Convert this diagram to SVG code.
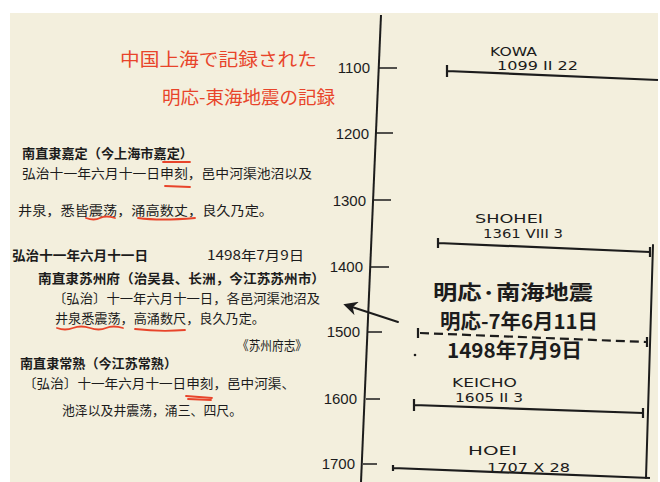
<svg xmlns="http://www.w3.org/2000/svg" width="660" height="482" viewBox="0 0 660 482">
<defs>
<style>
.ink{stroke:#1c1c1c;fill:none;stroke-linecap:round}
.ax{stroke:#1c1c1c;stroke-width:2;fill:none}
.tk{stroke:#1c1c1c;stroke-width:1.6}
.bar{stroke:#1c1c1c;stroke-width:2.2;fill:none}
.red{stroke:#e8442a;stroke-width:1.8;fill:none;stroke-linecap:round}
.num{font-family:"Liberation Sans",Arial,sans-serif;font-size:15px;fill:#1c1c1c;text-anchor:end}
.era{font-family:"DejaVu Sans","Liberation Sans",sans-serif;font-size:12px;fill:#1c1c1c}
.cn{font-family:"Noto Sans CJK SC","Noto Sans CJK JP",sans-serif;font-size:13px;fill:#1c1c1c}
.cnb{font-family:"Noto Sans CJK SC","Noto Sans CJK JP",sans-serif;font-size:13px;font-weight:bold;fill:#1c1c1c}
.hw{font-family:"Noto Sans CJK JP","Noto Sans CJK SC",sans-serif;font-size:20px;font-weight:bold;fill:#1c1c1c}
.hr{font-family:"Noto Sans CJK JP","Noto Sans CJK SC",sans-serif;font-size:18px;fill:#e8442a}
</style>
<marker id="ah" viewBox="0 0 10 10" refX="8" refY="5" markerWidth="7" markerHeight="7" orient="auto">
<path d="M0,0 L10,5 L0,10 L3,5 Z" fill="#1c1c1c"/>
</marker>
</defs>
<rect x="0" y="0" width="660" height="482" fill="#ffffff"/>
<rect x="10" y="13" width="648" height="469" fill="#f3efdd"/>

<g id="title-red">
<text class="hr" x="120" y="66" textLength="197" lengthAdjust="spacingAndGlyphs">中国上海で記録された</text>
<text class="hr" x="162" y="104" textLength="173" lengthAdjust="spacingAndGlyphs">明応-東海地震の記録</text>
</g>

<g id="text-jiading">
<text class="cnb" x="22" y="158" textLength="171" lengthAdjust="spacingAndGlyphs">南直隶嘉定（今上海市嘉定）</text>
<text class="cn" x="22" y="178" textLength="290" lengthAdjust="spacingAndGlyphs">弘治十一年六月十一日申刻，邑中河渠池沼以及</text>
<text class="cn" x="18" y="215" textLength="255" lengthAdjust="spacingAndGlyphs">井泉，悉皆震荡，涌高数丈，良久乃定。</text>
<path class="red" d="M163,162 L190,162"/>
<path class="red" d="M165,186 L190,187"/>
<path class="red" d="M86,218 Q94,221 100,218 T115,218"/>
<path class="red" d="M138,218 Q160,221 195,218"/>
</g>

<g id="text-suzhou">
<text class="cnb" x="12" y="260" textLength="136" lengthAdjust="spacingAndGlyphs">弘治十一年六月十一日</text>
<text class="cn" x="207" y="260" textLength="97" lengthAdjust="spacingAndGlyphs">1498年7月9日</text>
<text class="cnb" x="38" y="283" textLength="287" lengthAdjust="spacingAndGlyphs">南直隶苏州府（治吴县、长洲，今江苏苏州市）</text>
<text class="cn" x="53" y="303" textLength="267" lengthAdjust="spacingAndGlyphs">〔弘治〕十一年六月十一日，各邑河渠池沼及</text>
<text class="cn" x="55" y="323" textLength="210" lengthAdjust="spacingAndGlyphs">井泉悉震荡，高涌数尺，良久乃定。</text>
<text class="cn" x="237" y="350" textLength="70" lengthAdjust="spacingAndGlyphs">《苏州府志》</text>
<path class="red" d="M57,328 Q65,331 73,328 T90,328 T106,328 T123,328"/>
<path class="red" d="M135,329 Q160,332 185,330"/>
</g>

<g id="text-changshu">
<text class="cnb" x="20" y="368" textLength="157" lengthAdjust="spacingAndGlyphs">南直隶常熟（今江苏常熟）</text>
<text class="cn" x="23" y="388" textLength="272" lengthAdjust="spacingAndGlyphs">〔弘治〕十一年六月十一日申刻，邑中河渠、</text>
<text class="cn" x="62" y="415" textLength="180" lengthAdjust="spacingAndGlyphs">池泽以及井震荡，涌三、四尺。</text>
<path class="red" d="M186,396 L212,398"/>
<path class="red" d="M188,399 L211,400"/>
</g>

<g id="axis">
<path class="ax" d="M381,15 L361,482"/>
<path class="tk" d="M378,68 L397,68 M376,133 L393,133 M373,200 L391,200 M371,267 L389,267 M368,332 L382,332 M366,399 L380,399 M363,464 L377,464"/>
<text class="num" x="370" y="73">1100</text>
<text class="num" x="369" y="139">1200</text>
<text class="num" x="366" y="206">1300</text>
<text class="num" x="363" y="272">1400</text>
<text class="num" x="360" y="337">1500</text>
<text class="num" x="357" y="404">1600</text>
<text class="num" x="355" y="469">1700</text>
</g>

<g id="kowa">
<text class="era" x="490" y="56" textLength="47" lengthAdjust="spacingAndGlyphs">KOWA</text>
<text class="era" x="497" y="70" textLength="81" lengthAdjust="spacingAndGlyphs">1099 II 22</text>
<path class="bar" d="M447,71 L658,80 M447,65 L447,77"/>
</g>

<g id="shohei">
<text class="era" x="475" y="223" textLength="68" lengthAdjust="spacingAndGlyphs">SHOHEI</text>
<text class="era" x="483" y="238" textLength="80" lengthAdjust="spacingAndGlyphs">1361 VIII 3</text>
<path class="bar" d="M438,243 L650,252 M438,238 L438,248 M650,247 L650,257"/>
</g>

<g id="meio">
<text class="hw" x="433" y="300" textLength="160" lengthAdjust="spacingAndGlyphs">明応·南海地震</text>
<text class="hw" x="440" y="329" textLength="158" lengthAdjust="spacingAndGlyphs">明応-7年6月11日</text>
<path class="bar" stroke-dasharray="9,5" d="M420,333 L646,342"/>
<path class="bar" d="M418,328 L418,338 M647,337 L647,347"/>
<text class="hw" x="447" y="358" textLength="135" lengthAdjust="spacingAndGlyphs">1498年7月9日</text>
<circle cx="415" cy="355" r="1.3" fill="#1c1c1c"/>
</g>

<g id="keicho">
<text class="era" x="452" y="387" textLength="65" lengthAdjust="spacingAndGlyphs">KEICHO</text>
<text class="era" x="455" y="402" textLength="68" lengthAdjust="spacingAndGlyphs">1605 II 3</text>
<path class="bar" d="M414,405 L643,413 M414,399 L414,411 M643,408 L643,418"/>
</g>

<g id="hoei">
<text class="era" x="468" y="455" textLength="49" lengthAdjust="spacingAndGlyphs">HOEI</text>
<text class="era" x="487" y="472" textLength="83" lengthAdjust="spacingAndGlyphs">1707 X 28</text>
<path class="bar" d="M393,468 L650,478 M393,465 L393,471"/>
</g>

<g id="connectors">
<path class="ink" stroke-width="2" d="M398,322 L346,305" marker-end="url(#ah)"/>
<path class="ink" stroke-width="2" d="M653,245 L646,478"/>
</g>
</svg>
